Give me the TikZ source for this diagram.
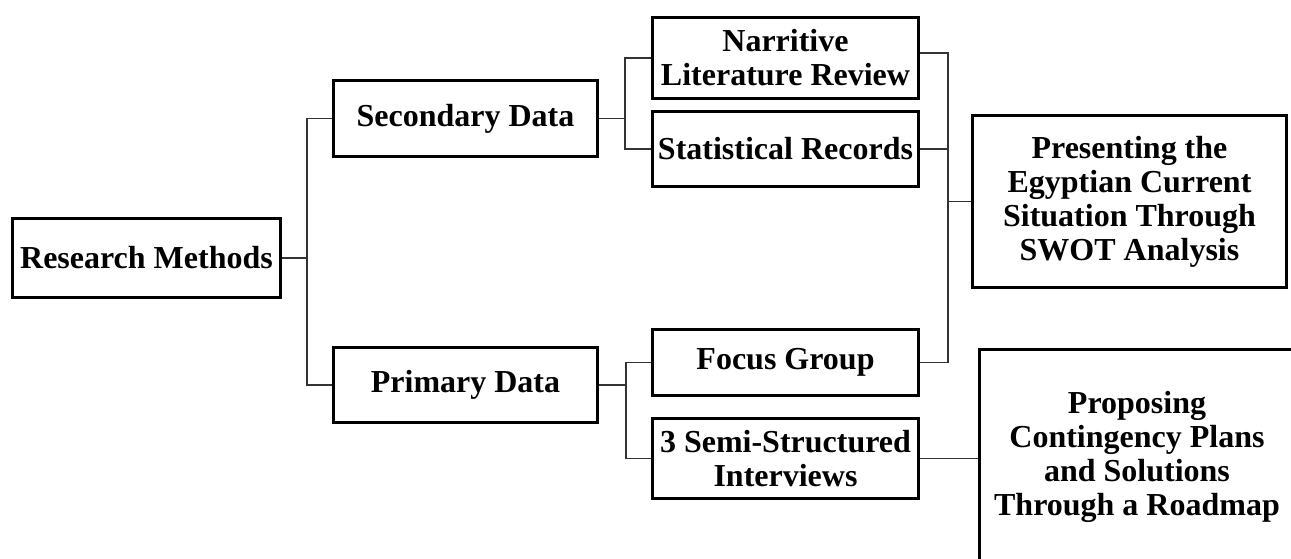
\documentclass[tikz,border=0pt]{standalone}
\usepackage{fontspec}
\setmainfont{Liberation Serif}
\usetikzlibrary{calc}
\tikzset{
  box/.style={draw=black, line width=3pt, inner sep=0pt, align=center,
    font=\fontsize{32}{34}\selectfont\bfseries},
  conn/.style={draw=black!80, line width=1.4pt}
}
\begin{document}
\begin{tikzpicture}[x=1pt,y=-1pt]
\clip (0,0) rectangle (1291,558);
\fill[white] (0,0) rectangle (1291,558);
\node[box, minimum width=268pt, minimum height=79pt] (RM) at (146.5,258) {Research Methods};
\node[box, minimum width=264pt, minimum height=76pt] (SD) at (465.5,118.5) {Secondary Data};
\node[box, minimum width=264pt, minimum height=75pt] (PD) at (465.5,385) {Primary Data};
\node[box, minimum width=266pt, minimum height=81pt] (NLR) at (785.5,58) {Narritive\\Literature Review};
\node[box, minimum width=266pt, minimum height=75pt] (SR) at (785.5,149) {Statistical Records};
\node[box, minimum width=266pt, minimum height=66pt] (FG) at (785.5,362.5) {Focus Group};
\node[box, minimum width=266pt, minimum height=80pt] (SSI) at (785.5,458.5) {3 Semi-Structured\\Interviews};
\node[box, minimum width=314pt, minimum height=172pt] (PR) at (1129.5,201.5) {Presenting the\\Egyptian Current\\Situation Through\\SWOT Analysis};
\node[box, minimum width=315pt, minimum height=215pt] (PP) at (1137,457) {Proposing\\Contingency Plans\\and Solutions\\Through a Roadmap};
% connectors
\draw[conn] (RM.east) -- ++(25,0) coordinate (j1) |- (SD.west);
\draw[conn] (j1) |- (PD.west);
\draw[conn] (SD.east) -- ++(26,0) coordinate (j2) |- (NLR.west);
\draw[conn] (j2) |- (SR.west);
\draw[conn] (PD.east) -- ++(27,0) coordinate (j3) |- (FG.west);
\draw[conn] (j3) |- (SSI.west);
\draw[conn] ([yshift=5pt]NLR.east) -- ++(28,0) coordinate (v1) |- (FG.east);
\draw[conn] (SR.east) -- (v1 |- SR.east);
\draw[conn] (v1 |- PR.west) -- (PR.west);
\draw[conn] (SSI.east) -- (SSI.east -| PP.west);
\end{tikzpicture}
\end{document}
